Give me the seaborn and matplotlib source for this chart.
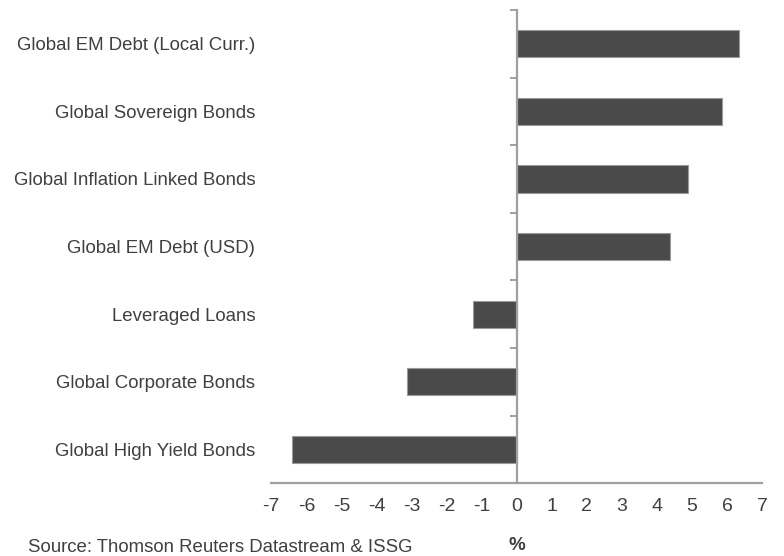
import pandas as pd
import matplotlib.pyplot as plt
import seaborn as sns
import numpy as np

categories = [
    "Global EM Debt (Local Curr.)",
    "Global Sovereign Bonds",
    "Global Inflation Linked Bonds",
    "Global EM Debt (USD)",
    "Leveraged Loans",
    "Global Corporate Bonds",
    "Global High Yield Bonds",
]
returns = [6.33, 5.85, 4.90, 4.36, -1.25, -3.12, -6.41]
x_ticks = list(range(-7, 8))

df = pd.DataFrame({"asset": categories, "ret": returns})

sns.set_style("white")
plt.rcParams["font.family"] = ["Liberation Sans", "DejaVu Sans"]

axis_grey = "#a0a0a0"
text_col = "#404040"

fig = plt.figure(figsize=(7.84, 5.56), dpi=100)
ax = fig.add_axes([0.346, 0.131, 0.626, 0.851])

sns.barplot(data=df, x="ret", y="asset", order=categories, orient="h",
            color="#4a4a4a", edgecolor="#9a9a9a", linewidth=0.8,
            width=0.4, saturation=1, ax=ax)

ax.set_xlim(-7, 7)
ax.set_ylim(len(categories) - 0.5, -0.5)
ax.set_xticks(x_ticks)
ax.set_xticklabels([str(t) for t in x_ticks])
ax.set_xlabel("")
ax.set_ylabel("")

# spines: bottom axis + vertical axis at zero
ax.spines["top"].set_visible(False)
ax.spines["left"].set_visible(False)
ax.spines["right"].set_position(("data", 0))
for s in ["bottom", "right"]:
    ax.spines[s].set_color(axis_grey)
    ax.spines[s].set_linewidth(1.6)

ax.set_yticks(np.arange(-0.5, len(categories), 1.0), minor=True)
ax.tick_params(axis="y", which="major", left=True, right=False, length=0,
               pad=11.5, labelsize=13.4, labelcolor=text_col)
ax.tick_params(axis="y", which="minor", left=False, right=True,
               direction="in", length=5, width=1.4, color=axis_grey)
ax.tick_params(axis="x", which="major", direction="out", length=5, width=1.4,
               color=axis_grey, labelsize=14, labelcolor=text_col, pad=6)

fig.text(0.659, 0.018, "%", fontsize=13.5, fontweight="bold",
         color=text_col, ha="center", va="center")
fig.text(0.036, 0.015, "Source: Thomson Reuters Datastream & ISSG", fontsize=13.4,
         color=text_col, ha="left", va="center")

fig.savefig("out.png", dpi=100)
